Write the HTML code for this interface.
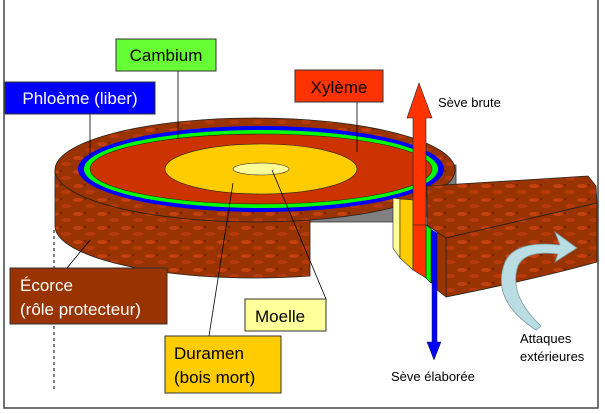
<!DOCTYPE html>
<html><head><meta charset="utf-8"><style>
html,body{margin:0;padding:0;background:#fff}
svg{display:block}
text{font-family:"Liberation Sans",sans-serif}
</style></head><body>
<svg width="605" height="414" viewBox="0 0 605 414" xmlns="http://www.w3.org/2000/svg">
<defs>
<pattern id="bark" width="24" height="14" patternUnits="userSpaceOnUse">
<rect width="24" height="14" fill="#993300"/>
<ellipse cx="6" cy="4" rx="5" ry="2" fill="#c2410e"/>
<ellipse cx="18" cy="10" rx="5" ry="2" fill="#b83a0a"/>
<circle cx="13" cy="3" r="0.7" fill="#401000"/>
</pattern>
</defs>
<rect x="0" y="0" width="605" height="414" fill="#fff"/>
<path d="M4,0 L4,408 L598,408 L598,0" fill="none" stroke="#444" stroke-width="1.5"/>
<!-- dashed line -->
<line x1="54" y1="230" x2="54" y2="390" stroke="#000" stroke-dasharray="3,3" stroke-width="1"/>
<!-- gray interior -->
<polygon points="300,222 420,222 456,188 456,165 300,165" fill="#808080" stroke="#333" stroke-width="0.8"/>
<!-- side bark -->
<path d="M55,170 L55,226 A200,52 0 0 0 310,276 L310,160 Z" fill="url(#bark)" stroke="#222" stroke-width="0.8"/>
<!-- top surface -->
<ellipse cx="255" cy="170" rx="200" ry="52" fill="url(#bark)" stroke="#222" stroke-width="0.8"/>
<ellipse cx="261" cy="169" rx="183" ry="43" fill="#0000ff"/>
<ellipse cx="261" cy="169" rx="177" ry="39" fill="#00ff00"/>
<ellipse cx="261" cy="169" rx="171" ry="35" fill="#cc3300" stroke="#222" stroke-width="0.6"/>
<ellipse cx="261" cy="169" rx="96" ry="25" fill="#ffcc00" stroke="#222" stroke-width="0.6"/>
<ellipse cx="261" cy="169" rx="28" ry="6" fill="#ffff99" stroke="#222" stroke-width="0.6"/>
<!-- layer strip -->
<polygon points="393,198 400,199 400,258 393,248" fill="#ffff99" stroke="#222" stroke-width="0.6"/>
<polygon points="400,199 413,200 413,270 400,258" fill="#ffcc00" stroke="#222" stroke-width="0.6"/>
<polygon points="426,225 431,229 431,283 426,278" fill="#00ff00" stroke="#222" stroke-width="0.6"/>
<polygon points="431,229 437,233 437,283 431,283" fill="#0000ff"/>
<!-- red arrow -->
<polygon points="413,118 407,118 419,83 432,118 426,118 426,278 413,270" fill="#ff3300" stroke="#222" stroke-width="0.6"/>
<line x1="413" y1="225" x2="426" y2="225" stroke="#222" stroke-width="0.6"/>
<!-- wedge -->
<polygon points="427,186 588,176 596,186 597,203 446,238 437,232 427,225" fill="url(#bark)" stroke="#222" stroke-width="0.8"/>
<path d="M446,238 L597,203 L597,262 Q540,278 446,297 Z" fill="url(#bark)" stroke="#222" stroke-width="0.8"/>
<polygon points="437,232 446,238 446,297 437,290" fill="#993300" stroke="#222" stroke-width="0.6"/>
<!-- blue arrow -->
<polygon points="432,281 437,281 437,342 441,342 434,360 427,342 432,342" fill="#0000ff" stroke="#222" stroke-width="0.5"/>
<!-- curved arrow -->
<path d="M536,330 Q490,300 505,262 Q515,240 560,245 L555,232 L577,248 L555,262 L558,254 Q525,250 518,266 Q508,295 541,326 Z" fill="#b9dde2" stroke="#7a9aa0" stroke-width="0.8"/>
<!-- leader lines -->
<g stroke="#000" stroke-width="0.8" fill="none">
<line x1="178" y1="71" x2="178" y2="138"/>
<line x1="90" y1="114" x2="90" y2="157"/>
<line x1="357" y1="102" x2="357" y2="152"/>
<line x1="67" y1="268" x2="90" y2="240"/>
<line x1="209" y1="336" x2="233" y2="183"/>
<line x1="326" y1="299" x2="272" y2="170"/>
</g>
<!-- labels -->
<rect x="116" y="39" width="100" height="32" fill="#66ff33" stroke="#333"/>
<text x="166" y="61" font-size="17" text-anchor="middle" fill="#000">Cambium</text>
<rect x="5" y="82" width="150" height="32" fill="#0000ff" stroke="#333"/>
<text x="80" y="104" font-size="17" text-anchor="middle" fill="#fff">Phloème (liber)</text>
<rect x="295" y="70" width="88" height="32" fill="#ff3300" stroke="#333"/>
<text x="339" y="93" font-size="17" text-anchor="middle" fill="#000">Xylème</text>
<rect x="10" y="268" width="157" height="56" fill="#993300" stroke="#333"/>
<text x="20" y="291" font-size="17" fill="#fff">Écorce</text>
<text x="20" y="315" font-size="17" fill="#fff">(rôle protecteur)</text>
<rect x="245" y="299" width="81" height="32" fill="#ffff99" stroke="#333"/>
<text x="255" y="322" font-size="17" fill="#000">Moelle</text>
<rect x="165" y="336" width="116" height="57" fill="#ffcc00" stroke="#333"/>
<text x="174" y="359" font-size="17" fill="#000">Duramen</text>
<text x="174" y="383" font-size="17" fill="#000">(bois mort)</text>
<text x="438" y="107" font-size="13" fill="#000">Sève brute</text>
<text x="391" y="381" font-size="13" fill="#000">Sève élaborée</text>
<text x="520" y="343" font-size="13" fill="#000">Attaques</text>
<text x="520" y="361" font-size="13" fill="#000">extérieures</text>
</svg>
</body></html>
